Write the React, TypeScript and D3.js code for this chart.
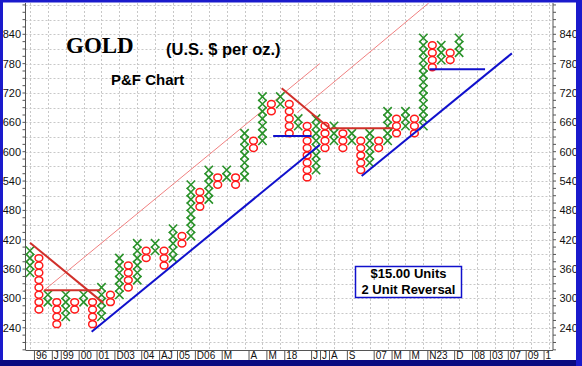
import React from 'react';
import * as d3 from 'd3';

const W = 582;
const H = 366;
const BOX = 15;

// Point & Figure columns (alternating X / O), box ranges in $ (low box, high box)
const colTypes = ['X','O','X','O','X','O','X','O','X','O','X','O','X','O','X','O','X','O','X','O','X','O','X','O','X','O','X','O','X','O','X','O','X','O','X','O','X','O','X','O','X','O','X','O','X','O','X','O','X'];
const colLow  = [345,270,285,240,255,270,285,240,255,285,300,315,330,375,390,360,375,405,420,480,495,525,540,525,540,600,615,675,690,630,645,540,555,600,615,600,615,555,570,600,615,630,645,630,645,765,780,780,795];
const colHigh = [390,375,300,285,300,285,300,285,315,300,375,360,405,390,405,390,435,420,525,510,555,540,555,540,630,615,705,690,705,690,660,645,660,645,645,630,630,615,630,615,675,660,675,660,825,810,810,795,825];

const yTickValues = [240, 300, 360, 420, 480, 540, 600, 660, 720, 780, 840];
const dateLabels = ['96','J','99','00','01','D03','04','AJ','05','D06','M','A','M','18','J','J','A','S','07','M','M','N23','D','08','03','07','09','1'];
const dateCols   = [1,3,4,6,8,10,13,15,17,19,22,25,27,29,32,33,34,36,39,41,43,45,48,50,52,54,56,58];

// trend lines in (column, price) space
const redThick = [
  [[0, 414], [8.2, 291]],
  [[1.6, 317], [7.9, 317]],
  [[28.15, 729.6], [33.75, 644.4]],
  [[33.75, 647.8], [40.6, 647.8]],
];
const pinkThin = [
  [[1.6, 317], [32.4, 780]],
  [[29.9, 680], [44.6, 904]],
];
const blueLines = [
  [[6.9, 232], [32.4, 613.7]],
  [[27.2, 632], [31.5, 632]],
  [[37.1, 550.3], [53.9, 801]],
  [[44.7, 768.5], [50.9, 768.5]],
];

const NCOLS = 59;

export default function App() {
  const left = 25.5, right = 553, top = 3, bottom = 350;
  const x = d3.scaleBand<number>().domain(d3.range(NCOLS)).range([left, right]);
  const cx = (c: number) => (x(0) as number) + x.bandwidth() * (c + 0.5);
  const y = d3.scaleLinear().domain([240, 840]).range([327.8, 34.3]);
  const bw = x.bandwidth();
  const bh = Math.abs(y(BOX) - y(0));

  const marks: React.ReactNode[] = [];
  colTypes.forEach((t, i) => {
    const boxes = d3.range(colLow[i], colHigh[i] + 1, BOX);
    boxes.forEach((v) => {
      const px = cx(i);
      const py = y(v + BOX / 2);
      if (t === 'X') {
        const hw = bw / 2 - 0.3, hh = bh / 2 + 0.6;
        marks.push(
          <path key={`x${i}-${v}`} d={`M${px - hw},${py - hh}L${px + hw},${py + hh}M${px - hw},${py + hh}L${px + hw},${py - hh}`}
            stroke="#2a922a" strokeWidth={1.6} fill="none" />
        );
      } else {
        marks.push(
          <ellipse key={`o${i}-${v}`} cx={px} cy={py} rx={bw / 2 - 0.6} ry={bh / 2 - 0.2}
            stroke="#ff1a1a" strokeWidth={1.5} fill="white" />
        );
      }
    });
  });

  const line = (pts: number[][]) =>
    d3.line<number[]>().x((d) => cx(d[0])).y((d) => y(d[1]))(pts) as string;

  const hGrid = d3.range(210, 901, 30).filter((v) => y(v) > top && y(v) < bottom);
  const vGrid = d3.range(0, NCOLS, 2);
  const minorTicks = d3.range(195, 905, BOX).filter((v) => y(v) >= top && y(v) <= bottom);

  return (
    <svg width={W} height={H} style={{ position: 'absolute', left: 0, top: 0 }}
      fontFamily="'Liberation Sans', Arial, sans-serif">
      <defs>
        <clipPath id="plotClip">
          <rect x={left} y={top} width={right - left} height={bottom - top} />
        </clipPath>
      </defs>
      <rect x={0} y={0} width={W} height={H} fill="white" />
      {/* grid */}
      <g stroke="#c8c8c8" strokeWidth={1} strokeDasharray="2,2">
        {hGrid.map((v) => (
          <line key={`hg${v}`} x1={left} x2={right} y1={Math.round(y(v)) + 0.5} y2={Math.round(y(v)) + 0.5} />
        ))}
        {vGrid.map((c) => (
          <line key={`vg${c}`} x1={Math.round(cx(c)) + 0.5} x2={Math.round(cx(c)) + 0.5} y1={top} y2={bottom} />
        ))}
      </g>
      {/* axes */}
      <g stroke="#555" strokeWidth={1}>
        <line x1={left} x2={left} y1={top} y2={bottom} />
        <line x1={right} x2={right} y1={top} y2={bottom} />
        <line x1={left} x2={right} y1={bottom + 0.5} y2={bottom + 0.5} />
        {minorTicks.map((v) => (
          <g key={`mt${v}`}>
            <line x1={left - 3} x2={left} y1={y(v)} y2={y(v)} />
            <line x1={right} x2={right + 3} y1={y(v)} y2={y(v)} />
          </g>
        ))}
      </g>
      <g fontSize={11} fill="#111">
        {yTickValues.map((v) => (
          <g key={`yt${v}`}>
            <text x={21} y={y(v) + 4} textAnchor="end">{v}</text>
            <text x={559.5} y={y(v) + 4} textAnchor="start">{v}</text>
          </g>
        ))}
      </g>
      {/* x labels */}
      <g fontSize={10} fill="#111">
        {dateLabels.map((lab, i) => {
          const xe = (x(dateCols[i]) as number);
          return (
            <g key={`dl${i}`}>
              <line x1={xe} x2={xe} y1={bottom} y2={bottom + 10} stroke="#555" />
              <text x={xe + 1.5} y={bottom + 9}>{lab}</text>
            </g>
          );
        })}
      </g>
      <g clipPath="url(#plotClip)">
        {pinkThin.map((p, i) => (
          <path key={`pk${i}`} d={line(p)} stroke="#f08080" strokeWidth={1} fill="none" />
        ))}
        {marks}
        {redThick.map((p, i) => (
          <path key={`rd${i}`} d={line(p)} stroke="#d0302a" strokeWidth={2} fill="none" />
        ))}
        {blueLines.map((p, i) => (
          <path key={`bl${i}`} d={line(p)} stroke="#1010cc" strokeWidth={2} fill="none" />
        ))}
      </g>
      {/* titles */}
      <text x={66} y={52.5} fontFamily="'Liberation Serif', 'Times New Roman', serif" fontWeight="bold" fontSize={23} fill="#000">GOLD</text>
      <text x={166} y={55} fontWeight="bold" fontSize={16.5} fill="#000">(U.S. $ per oz.)</text>
      <text x={111} y={85} fontWeight="bold" fontSize={15} fill="#000">P&amp;F Chart</text>
      <rect x={355.5} y={266.5} width={106} height={31} fill="white" stroke="#1010cc" strokeWidth={1.5} />
      <text x={408.5} y={278} textAnchor="middle" fontWeight="bold" fontSize={13} fill="#000">$15.00 Units</text>
      <text x={408.5} y={294} textAnchor="middle" fontWeight="bold" fontSize={13} fill="#000">2 Unit Reversal</text>
      {/* frame */}
      <rect x={1.5} y={1} width={W - 5} height={H - 4} fill="none" stroke="#1a1acc" strokeWidth={3} />
      <rect x={0} y={360} width={W} height={6} fill="#0a0a80" />
      <rect x={576} y={0} width={6} height={H} fill="#1a1acc" />
    </svg>
  );
}
